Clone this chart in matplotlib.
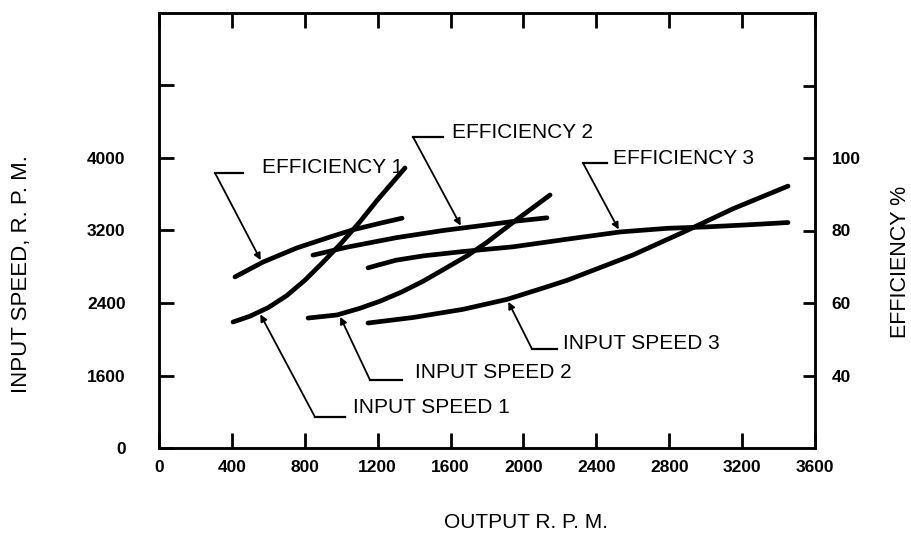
import numpy as np
import matplotlib
matplotlib.use('Agg')
import matplotlib.pyplot as plt

plt.rcParams['font.family'] = ['Liberation Sans', 'DejaVu Sans']

# input speed curves (output rpm, input rpm)
out_1 = [406, 500, 600, 700, 800, 900, 1000, 1100, 1200, 1350]
speed_1 = [2190, 2255, 2350, 2480, 2650, 2850, 3060, 3290, 3540, 3890]

out_2 = [818, 977, 1100, 1213, 1330, 1449, 1570, 1690, 1800, 1943, 2146]
speed_2 = [2234, 2268, 2340, 2420, 2520, 2640, 2780, 2920, 3070, 3290, 3592]

out_3 = [1147, 1394, 1668, 1910, 2100, 2239, 2420, 2601, 2876, 3150, 3452]
speed_3 = [2179, 2240, 2330, 2440, 2560, 2650, 2790, 2930, 3180, 3440, 3690]

# efficiency curves (output rpm, percent)
eff_out_1 = [417, 571, 757, 938, 1065, 1213, 1334]
eff_1 = [67.2, 71.3, 75.2, 78.2, 80.2, 82.0, 83.4]

eff_out_2 = [845, 1032, 1300, 1559, 1762, 1943, 2129]
eff_2 = [73.2, 75.4, 78.0, 80.0, 81.3, 82.5, 83.5]

eff_out_3 = [1147, 1300, 1450, 1668, 1943, 2239, 2530, 2788, 3007, 3243, 3452]
eff_3 = [69.7, 71.8, 73.0, 74.2, 75.5, 77.6, 79.6, 80.6, 81.0, 81.6, 82.2]

x_ticks = [0, 400, 800, 1200, 1600, 2000, 2400, 2800, 3200, 3600]
speed_ticks = [800, 1600, 2400, 3200, 4000, 4800]
speed_labels = ['0', '1600', '2400', '3200', '4000', '']
eff_ticks = [40, 60, 80, 100, 120]
eff_labels = ['40', '60', '80', '100', '']

fig = plt.figure(figsize=(9.11, 5.35), dpi=100)
ax = fig.add_axes([159/911, 87/535, 656/911, 435/535])
ax2 = ax.twinx()

curve = dict(color='k', lw=3.4, solid_capstyle='round', solid_joinstyle='round')
ax.plot(out_1, speed_1, **curve)
ax.plot(out_2, speed_2, **curve)
ax.plot(out_3, speed_3, **curve)
ax2.plot(eff_out_1, eff_1, **curve)
ax2.plot(eff_out_2, eff_2, **curve)
ax2.plot(eff_out_3, eff_3, **curve)

ax.set_xlim(0, 3600)
ax.set_ylim(800, 5600)
ax2.set_ylim(20, 140)

ax.set_xticks(x_ticks)
ax.set_xticklabels([str(v) for v in x_ticks])
ax.set_yticks(speed_ticks)
ax.set_yticklabels(speed_labels)
ax2.set_yticks(eff_ticks)
ax2.set_yticklabels(eff_labels)

ax.tick_params(axis='x', direction='in', length=11, width=2, top=True,
               labelsize=12.5, pad=9)
ax.tick_params(axis='y', direction='in', length=11, width=2, right=False,
               labelsize=12.5, pad=24)
ax2.tick_params(axis='y', direction='in', length=9, width=2,
                labelsize=12.5, pad=12)
for lab in ax.get_xticklabels() + ax.get_yticklabels() + ax2.get_yticklabels():
    lab.set_fontweight('bold')
for a in (ax, ax2):
    for s in a.spines.values():
        s.set_linewidth(1.8)


def leader(a, xs, ys, tip_x, corner, bar_end, text_xy, label):
    tip = (tip_x, np.interp(tip_x, xs, ys))
    a.plot([corner[0], bar_end], [corner[1], corner[1]], color='k', lw=1.6)
    a.annotate('', xy=tip, xytext=corner,
               arrowprops=dict(arrowstyle='-|>', color='k', lw=1.3,
                               mutation_scale=10, shrinkA=0, shrinkB=2))
    a.text(text_xy[0], text_xy[1], label, fontsize=15, ha='left', va='center')


leader(ax2, eff_out_1, eff_1, 565, (307, 95.9), 461, (565, 97.5), 'EFFICIENCY 1')
leader(ax2, eff_out_2, eff_2, 1663, (1394, 105.8), 1559, (1608, 106.9), 'EFFICIENCY 2')
leader(ax2, eff_out_3, eff_3, 2530, (2327, 98.6), 2459, (2492, 100.0), 'EFFICIENCY 3')
leader(ax, out_1, speed_1, 549, (856, 1142), 1021, (1065, 1252), 'INPUT SPEED 1')
leader(ax, out_2, speed_2, 988, (1158, 1550), 1334, (1405, 1628), 'INPUT SPEED 2')
leader(ax, out_3, speed_3, 1910, (2047, 1892), 2184, (2217, 1948), 'INPUT SPEED 3')

fig.text(526/911, 1 - 522/535, 'OUTPUT R. P. M.', fontsize=15, ha='center', va='center')
fig.text(22/911, 1 - 274/535, 'INPUT SPEED, R. P. M.', fontsize=16,
         rotation=90, ha='center', va='center')
fig.text(900/911, 1 - 262/535, 'EFFICIENCY %', fontsize=15.5,
         rotation=90, ha='center', va='center')

fig.savefig('out.png', dpi=100)
